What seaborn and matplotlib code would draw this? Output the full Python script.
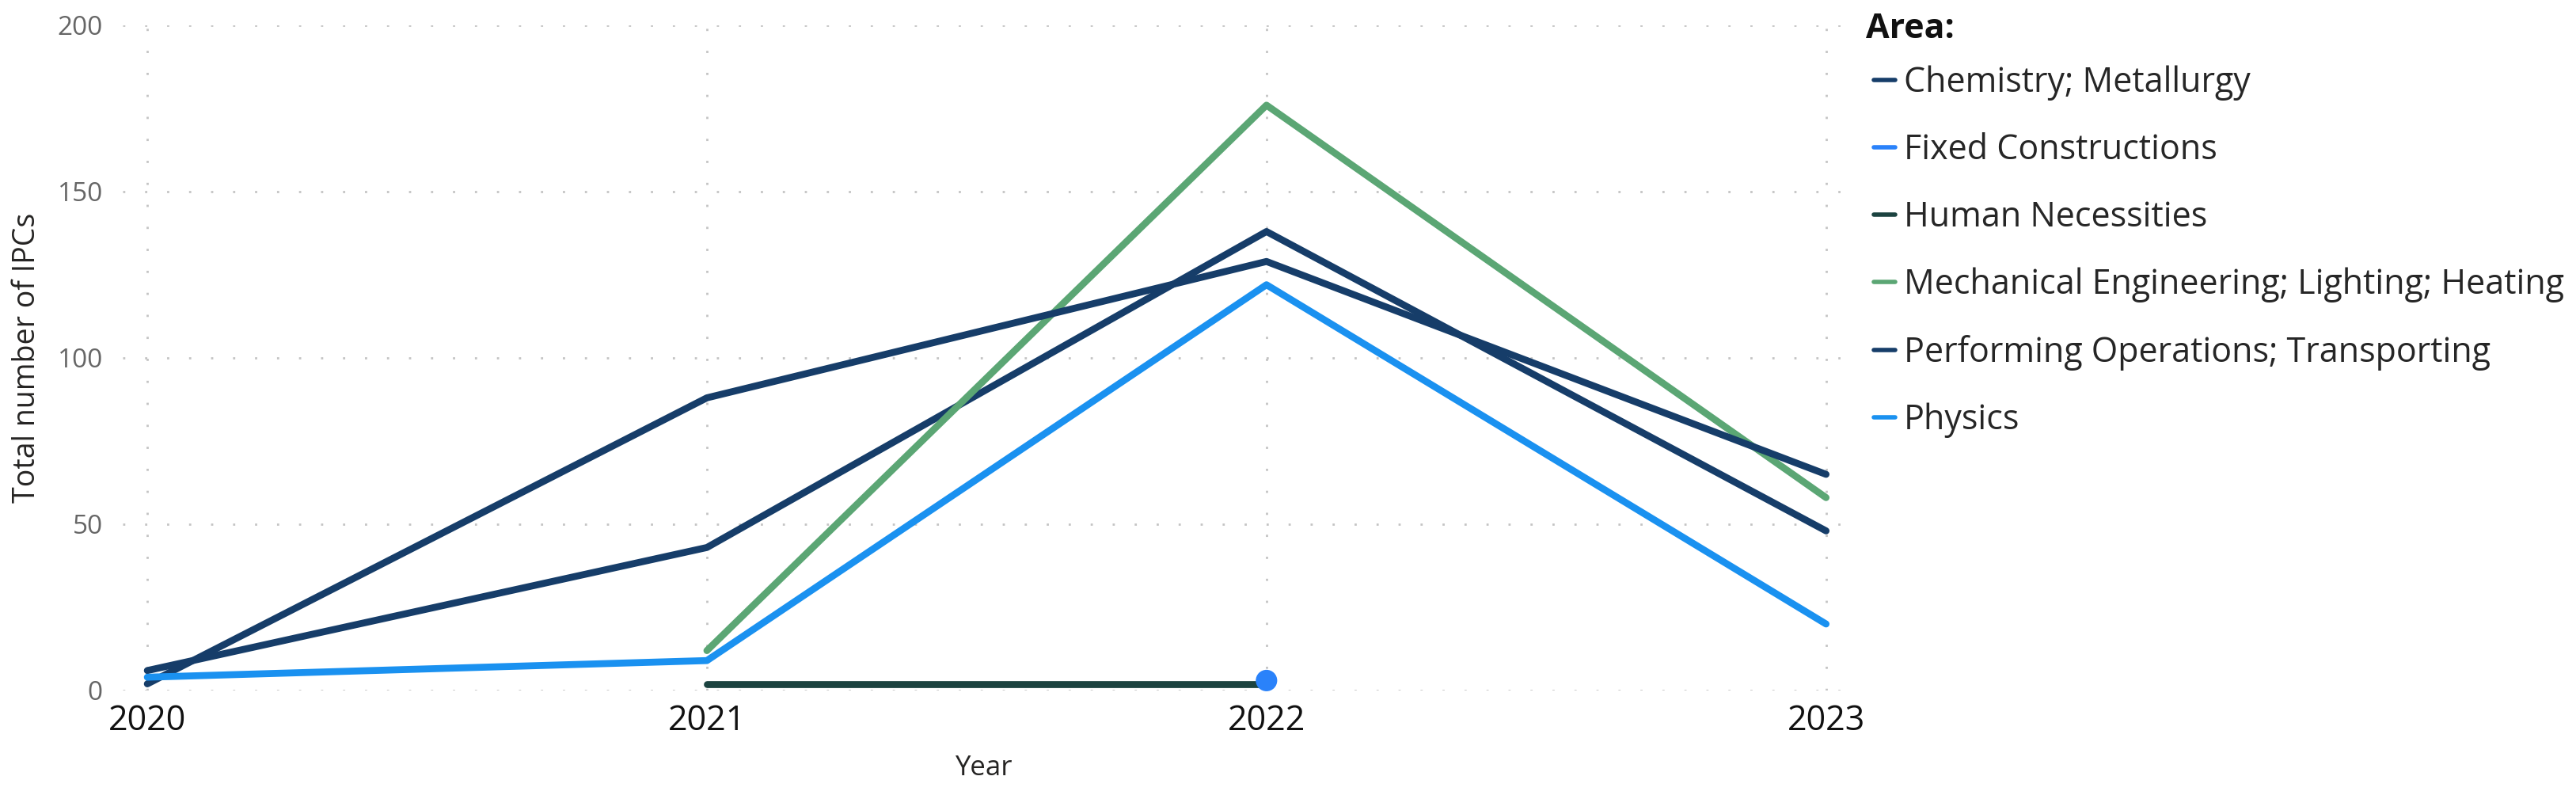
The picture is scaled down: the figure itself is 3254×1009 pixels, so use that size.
import numpy as np
import pandas as pd
import matplotlib
matplotlib.use('Agg')
import matplotlib.pyplot as plt
from matplotlib.lines import Line2D
import seaborn as sns

sns.set_style('white')
plt.rcParams['font.family'] = ['Open Sans', 'DejaVu Sans']

# data
years = [2020, 2021, 2022, 2023]
areas = ['Chemistry; Metallurgy', 'Fixed Constructions', 'Human Necessities',
         'Mechanical Engineering; Lighting; Heating',
         'Performing Operations; Transporting', 'Physics']
chemistry = [6, 43, 138, 48]
fixed_constructions = [np.nan, np.nan, 3, np.nan]
human_necessities = [np.nan, 2, 2, np.nan]
mechanical = [np.nan, 12, 176, 58]
performing = [2, 88, 129, 65]
physics = [4, 9, 122, 20]

colors = {
    'Chemistry; Metallurgy': '#163D69',
    'Fixed Constructions': '#2A82FA',
    'Human Necessities': '#1C4340',
    'Mechanical Engineering; Lighting; Heating': '#5BA674',
    'Performing Operations; Transporting': '#163D69',
    'Physics': '#1A91F0',
}

series = [chemistry, fixed_constructions, human_necessities, mechanical, performing, physics]
rows = []
for area, vals in zip(areas, series):
    for y, v in zip(years, vals):
        rows.append({'Year': y, 'Area': area, 'Total': v})
df = pd.DataFrame(rows).dropna()

# areas with a single year get a dot instead of a line
counts = df.groupby('Area')['Total'].count()
line_df = df[df['Area'].isin(counts[counts > 1].index)]
point_df = df[df['Area'].isin(counts[counts == 1].index)]

fig = plt.figure(figsize=(32.54, 10.09), dpi=100)
ax = fig.add_axes([155 / 3254, 1 - 872 / 1009, (2330 - 155) / 3254, (872 - 32) / 1009])

sns.lineplot(data=line_df, x='Year', y='Total', hue='Area', palette=colors,
             linewidth=6.3, legend=False, ax=ax, solid_capstyle='round')
sns.scatterplot(data=point_df, x='Year', y='Total', hue='Area', palette=colors,
                s=380, edgecolor='none', legend=False, ax=ax, zorder=5)
for ln in ax.lines:
    ln.set_clip_on(False)
for c in ax.collections:
    c.set_clip_on(False)

ax.set_xlim(2019.956, 2023.033)
ax.set_ylim(0, 200)
ax.set_xticks(years)
ax.set_yticks([0, 50, 100, 150, 200])
ax.grid(True, color='#C4C4C4', linestyle=(0, (1, 9)), linewidth=2)
ax.set_axisbelow(True)
for s in ax.spines.values():
    s.set_visible(False)
ax.tick_params(axis='x', length=0, pad=12, labelsize=31, labelcolor='#111111')
ax.tick_params(axis='y', length=0, pad=18, labelsize=24, labelcolor='#666666')
ax.set_xlabel('Year', fontsize=25, color='#252423', labelpad=14)
ax.set_ylabel('Total number of IPCs', fontsize=27, color='#252423', labelpad=14)

# legend title drawn separately so the gap under it matches
fig.text(2357 / 3254, 1 - 36 / 1009, 'Area:', fontsize=31, fontweight='bold',
         color='#111111', ha='left', va='center')
handles = [Line2D([0], [0], color=colors[a], linewidth=4) for a in areas]
leg = fig.legend(handles, areas, loc='upper left', bbox_to_anchor=(2328 / 3254, 1 - 44 / 1009),
                 frameon=False, fontsize=31, handlelength=0.63,
                 handletextpad=0.26, labelspacing=0.94)

fig.savefig('out.png', dpi=100, facecolor='white')
